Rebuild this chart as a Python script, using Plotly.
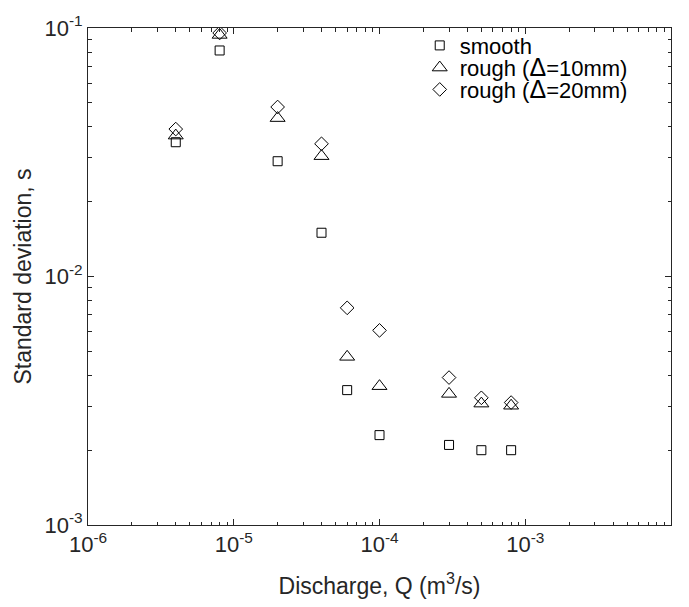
import plotly.graph_objects as go

discharge = [4e-6, 8e-6, 2e-5, 4e-5, 6e-5, 1e-4, 3e-4, 5e-4, 8e-4]
smooth = [0.0347, 0.0812, 0.0291, 0.0150, 0.00349, 0.00230, 0.00210, 0.00200, 0.00200]
rough10 = [0.0369, 0.0938, 0.0434, 0.0305, 0.00475, 0.00362, 0.00337, 0.00308, 0.00302]
rough20 = [0.0392, 0.0955, 0.0481, 0.0342, 0.00748, 0.00607, 0.00392, 0.00325, 0.00311]

x_decades = [-6, -5, -4, -3, -2]
y_decades = [-3, -2, -1]

DELTA = '<span style="font-size:25px">\u0394</span>'
names = ["smooth", f"rough ({DELTA}=10mm)", f"rough ({DELTA}=20mm)"]
series = [smooth, rough10, rough20]
symbols = ["square-open", "triangle-up-open", "diamond-open"]
sizes = [9, 13, 10.5]
legend_ids = ["legend", "legend2", "legend3"]

AX = "#262626"
FONT = "Liberation Sans, Arial, Helvetica, sans-serif"


def major_vals(decs):
    return [10.0 ** d for d in decs]


def all_vals(decs):
    vals = []
    for d in decs:
        for m in range(1, 10):
            if d == decs[-1] and m > 1:
                break
            vals.append(m * 10.0 ** d)
    return vals


def all_text(decs):
    txt = []
    for d in decs:
        for m in range(1, 10):
            if d == decs[-1] and m > 1:
                break
            txt.append(f"10<sup>{d}</sup>" if m == 1 else "")
    return txt


fig = go.Figure()
for name, ys, sym, sz, lg in zip(names, series, symbols, sizes, legend_ids):
    fig.add_trace(go.Scatter(
        x=discharge, y=ys, mode="markers", name=name, legend=lg,
        marker=dict(symbol=sym, size=sz, color="black", line=dict(color="black", width=1)),
    ))
# invisible trace so the overlay axes (major ticks) are drawn
fig.add_trace(go.Scatter(x=[discharge[0]], y=[smooth[0]], xaxis="x2", yaxis="y2",
                         mode="markers", marker=dict(opacity=0), showlegend=False, hoverinfo="skip"))

base = dict(type="log", showgrid=False, zeroline=False, tickcolor=AX, tickwidth=1, ticks="inside",
            layer="above traces")

row_y = [0.9646, 0.920, 0.876]
leg_common = dict(x=0.569, xanchor="left", yanchor="middle", bgcolor="rgba(0,0,0,0)",
                  font=dict(family=FONT, size=22, color="black"), itemsizing="trace")

fig.update_layout(
    xaxis=dict(**base, range=[-6, -2], tickvals=all_vals(x_decades), ticktext=all_text(x_decades),
               ticklen=3.5, mirror="ticks", showline=True, linecolor=AX, linewidth=1,
               tickfont=dict(family=FONT, size=22, color=AX),
               title=dict(text="Discharge, Q (m<sup>3</sup>/s)", font=dict(family=FONT, size=23, color=AX), standoff=21)),
    yaxis=dict(**base, range=[-3, -1], tickvals=all_vals(y_decades), ticktext=all_text(y_decades),
               ticklen=3.5, mirror="ticks", showline=True, linecolor=AX, linewidth=1,
               tickfont=dict(family=FONT, size=22, color=AX),
               title=dict(text="Standard deviation, s", font=dict(family=FONT, size=23, color=AX), standoff=6)),
    xaxis2=dict(**base, range=[-6, -2], overlaying="x", anchor="y2", tickvals=major_vals(x_decades),
                ticklen=6, mirror="ticks", showline=False, showticklabels=False, side="bottom"),
    yaxis2=dict(**base, range=[-3, -1], overlaying="y", anchor="x2", tickvals=major_vals(y_decades),
                ticklen=6, mirror="ticks", showline=False, showticklabels=False, side="left"),
    legend=dict(**leg_common, y=row_y[0]),
    legend2=dict(**leg_common, y=row_y[1]),
    legend3=dict(**leg_common, y=row_y[2]),
    width=689, height=607,
    margin=dict(l=88, r=18, t=19, b=80),
    paper_bgcolor="white", plot_bgcolor="white",
    font=dict(family=FONT, color=AX),
    showlegend=True,
)

fig.write_html("out.html")
